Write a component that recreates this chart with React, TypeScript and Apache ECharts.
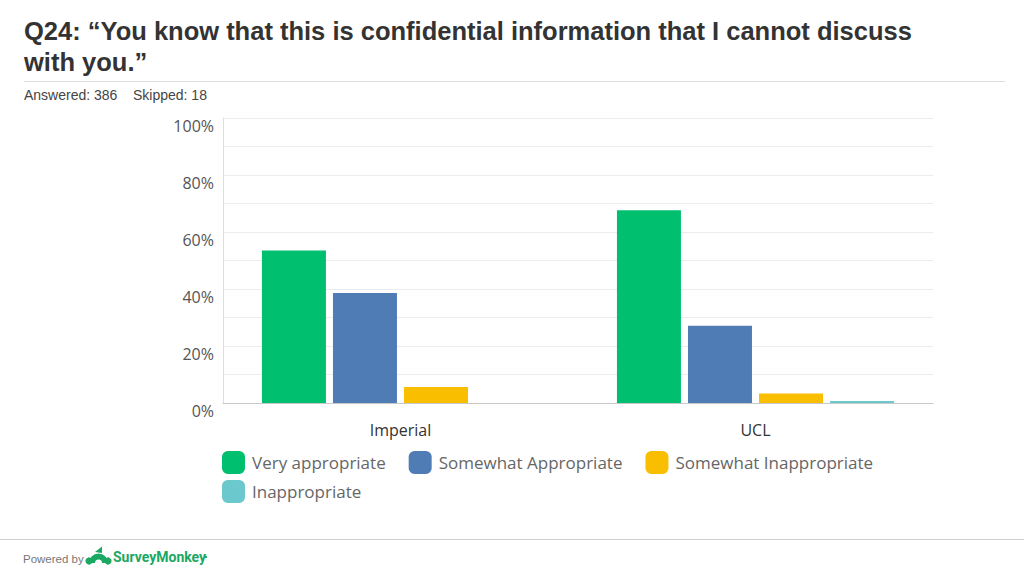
import React, { useEffect, useRef } from "react";
import * as echarts from "echarts";

const categories = ["Imperial", "UCL"];
const seriesNames = [
  "Very appropriate",
  "Somewhat Appropriate",
  "Somewhat Inappropriate",
  "Inappropriate",
];
const veryAppropriate = [53.5, 67.6];
const somewhatAppropriate = [38.6, 27.1];
const somewhatInappropriate = [5.6, 3.3];
const inappropriate = [0, 0.7];
const seriesColors = ["#00BF6F", "#507CB6", "#F9BE00", "#6BC8CD"];
const titleLines = [
  "Q24: \u201cYou know that this is confidential information that I cannot discuss",
  "with you.\u201d",
];
const answeredText = "Answered: 386";
const skippedText = "Skipped: 18";

const chartFont = "'Open Sans', 'Noto Sans', sans-serif";
const titleFont = "'Liberation Sans', Arial, sans-serif";
const logoGreen = "#1aa862";

export default function App() {
  const ref = useRef<HTMLDivElement>(null);
  useEffect(() => {
    document.body.style.margin = "0";
    if (!ref.current) return;
    const chart = echarts.init(ref.current, null, { renderer: "svg" });
    const values = [veryAppropriate, somewhatAppropriate, somewhatInappropriate, inappropriate];
    const legendCommon = {
      left: 222,
      itemWidth: 23,
      itemHeight: 23,
      itemGap: 23,
      padding: 0,
      icon: "roundRect",
      textStyle: { color: "#666666", fontSize: 17, fontFamily: chartFont, padding: [0, 0, 0, 2] },
    };
    chart.setOption({
      animation: false,
      backgroundColor: "#ffffff",
      grid: { left: 223, right: 91, top: 118, bottom: 173, containLabel: false },
      xAxis: {
        type: "category",
        data: categories,
        axisLine: { show: true, lineStyle: { color: "#c8c8c8", width: 1 } },
        axisTick: { show: false },
        axisLabel: { color: "#333333", fontSize: 16, fontFamily: chartFont, margin: 19 },
      },
      yAxis: {
        type: "value",
        min: 0,
        max: 100,
        interval: 10,
        axisLine: { show: true, lineStyle: { color: "#dddddd", width: 1 } },
        axisTick: { show: false },
        splitLine: { show: true, lineStyle: { color: "#ececec", width: 1 } },
        axisLabel: {
          color: "#555555",
          fontSize: 16,
          fontFamily: chartFont,
          margin: 9,
          verticalAlign: "top",
          formatter: (v: number) => (v % 20 === 0 ? v + "%" : ""),
        },
      },
      legend: [
        { ...legendCommon, data: seriesNames.slice(0, 3), top: 451 },
        { ...legendCommon, data: seriesNames.slice(3), top: 480 },
      ],
      series: seriesNames.map((name, i) => ({
        name,
        type: "bar",
        data: values[i],
        barWidth: 64,
        barGap: "11%",
        itemStyle: { color: seriesColors[i] },
      })),
      graphic: [
        {
          type: "text",
          left: 24,
          top: 15,
          style: {
            text: titleLines.join("\n"),
            font: `bold 25.5px ${titleFont}`,
            fill: "#333333",
            lineHeight: 31,
          },
        },
        {
          type: "line",
          shape: { x1: 24, y1: 81.5, x2: 1005, y2: 81.5 },
          style: { stroke: "#dddddd", lineWidth: 1 },
        },
        {
          type: "text",
          left: 24,
          top: 88,
          style: { text: answeredText, font: `14px ${titleFont}`, fill: "#444444" },
        },
        {
          type: "text",
          left: 133,
          top: 88,
          style: { text: skippedText, font: `14px ${titleFont}`, fill: "#444444" },
        },
        {
          type: "line",
          shape: { x1: 0, y1: 539.5, x2: 1024, y2: 539.5 },
          style: { stroke: "#d0d0d0", lineWidth: 1 },
        },
        {
          type: "text",
          left: 23,
          top: 553,
          style: { text: "Powered by", font: `11.5px 'Liberation Sans', sans-serif`, fill: "#777777" },
        },
        {
          type: "group",
          children: [
            {
              type: "arc",
              shape: { cx: 98.5, cy: 563, r: 6.5, startAngle: Math.PI, endAngle: 2 * Math.PI, clockwise: true },
              style: { stroke: logoGreen, fill: "none", lineWidth: 6 },
            },
            { type: "circle", shape: { cx: 89, cy: 561, r: 3.6 }, style: { fill: logoGreen } },
            { type: "circle", shape: { cx: 108, cy: 561, r: 3.6 }, style: { fill: logoGreen } },
            {
              type: "polygon",
              shape: { points: [[95, 552], [102, 546.5], [102, 553]] },
              style: { fill: logoGreen },
            },
          ],
        },
        {
          type: "text",
          left: 113,
          top: 550,
          style: { text: "SurveyMonkey", font: `bold 14px Roboto, sans-serif`, fill: logoGreen },
        },
        {
          type: "circle",
          shape: { cx: 206, cy: 557, r: 1.2 },
          style: { fill: logoGreen },
        },
      ],
    });
    return () => chart.dispose();
  }, []);
  return <div ref={ref} style={{ width: 1024, height: 576 }} />;
}
